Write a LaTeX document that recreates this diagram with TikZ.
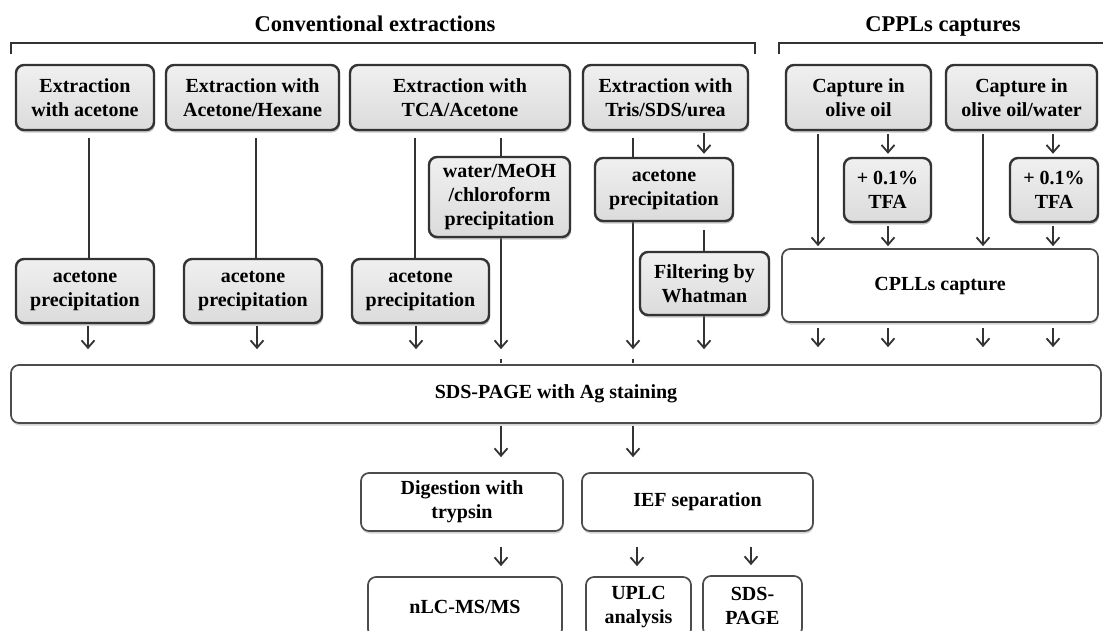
\documentclass[tikz,border=0pt]{standalone}
\usepackage{fontspec}
\setmainfont{Liberation Serif}
\usetikzlibrary{arrows.meta,calc,shadows,backgrounds}
\definecolor{ink}{HTML}{333333}
\begin{document}
\begin{tikzpicture}[x=1pt,y=-1pt,
  txt/.style={align=center, inner sep=0pt, text=black, font=\bfseries\fontsize{20}{24}\selectfont},
  gbox/.style={txt, draw=ink, line width=2.4pt, rounded corners=8pt, top color=gray!12, bottom color=gray!28,
    drop shadow={shadow xshift=1pt, shadow yshift=-2.5pt, opacity=0.45}},
  wbox/.style={txt, draw=gray!60!black, line width=1.7pt, rounded corners=8pt, fill=white,
    drop shadow={shadow xshift=0.5pt, shadow yshift=-2.5pt, opacity=0.35}},
  ln/.style={draw=ink, line width=1.9pt},
  arr/.style={ln, -{Straight Barb[length=7.5pt,width=13pt,line width=1.8pt]}},
  title/.style={inner sep=0pt, anchor=base, font=\bfseries\fontsize{22.5}{27}\selectfont}
]
\useasboundingbox (0,0) rectangle (1103,630);
\clip (0,0) rectangle (1103,630);

% titles and brackets
\node[title] (t1) at (375,31) {Conventional extractions};
\node[title] (t2) at (943,31) {CPPLs captures};
\draw[ln, line width=2.5pt] (11,54) -- (11,43) -- (755,43) -- (755,54);
\draw[ln, line width=2.5pt] (779,54) -- (779,43) -- (1110,43);

% top row
\node[gbox,minimum width=138,minimum height=65] (b1) at (85,97.5) {Extraction\\with acetone};
\node[gbox,minimum width=173,minimum height=65] (b2) at (252.5,97.5) {Extraction with\\Acetone/Hexane};
\node[gbox,minimum width=220,minimum height=65] (b3) at (460,97.5) {Extraction with\\TCA/Acetone};
\node[gbox,minimum width=165,minimum height=65] (b4) at (665.5,97.5) {Extraction with\\Tris/SDS/urea};
\node[gbox,minimum width=145,minimum height=65] (b5) at (858.5,97.5) {Capture in\\olive oil};
\node[gbox,minimum width=151,minimum height=65] (b6) at (1021.5,97.5) {Capture in\\olive oil/water};

% second row
\node[gbox,minimum width=141,minimum height=80] (wm) at (499.5,197) {water/MeOH\\/chloroform\\precipitation};
\node[gbox,minimum width=138,minimum height=63] (ap4) at (664,189.5) {acetone\\precipitation};
\node[gbox,minimum width=87,minimum height=64] (tfa1) at (887.5,190) {+ 0.1\%\\TFA};
\node[gbox,minimum width=88,minimum height=64] (tfa2) at (1054,190) {+ 0.1\%\\TFA};

% third row
\node[gbox,minimum width=138,minimum height=64] (ap1) at (85,291) {acetone\\precipitation};
\node[gbox,minimum width=138,minimum height=64] (ap2) at (253,291) {acetone\\precipitation};
\node[gbox,minimum width=137,minimum height=64] (ap3) at (420.5,291) {acetone\\precipitation};
\node[gbox,minimum width=129,minimum height=63] (filt) at (704.5,283.5) {Filtering by\\Whatman};
\node[wbox,minimum width=316,minimum height=73] (cpll) at (940,285.5) {CPLLs capture};

% SDS-PAGE
\node[wbox,minimum width=1090,minimum height=58] (sds) at (556,394) {SDS-PAGE with Ag staining};

% lower part
\node[wbox,minimum width=202,minimum height=58] (dig) at (462,502) {Digestion with\\trypsin};
\node[wbox,minimum width=231,minimum height=58] (ief) at (697.5,502) {IEF separation};
\node[wbox,minimum width=194,minimum height=60] (nlc) at (465,607) {nLC-MS/MS};
\node[wbox,minimum width=105,minimum height=60] (uplc) at (638.5,607) {UPLC\\analysis};
\node[wbox,minimum width=99,minimum height=60] (sdsp) at (752.5,606) {SDS-\\PAGE};

% column coordinates
\coordinate (c88) at (88,0);
\coordinate (c89) at (89,0);
\coordinate (c256) at (256,0);
\coordinate (c257) at (257,0);
\coordinate (c415) at (415,0);
\coordinate (c416) at (416,0);
\coordinate (c501) at (501,0);
\coordinate (c633) at (633,0);
\coordinate (c637) at (637,0);
\coordinate (c704) at (704,0);
\coordinate (c751) at (751,0);
\coordinate (c818) at (818,0);
\coordinate (c888) at (888,0);
\coordinate (c983) at (983,0);
\coordinate (c1053) at (1053,0);

\begin{pgfonlayer}{background}
% conventional extractions
\draw[ln, shorten <=7pt] (c89 |- b1.south) -- (c89 |- ap1.north);
\draw[ln, shorten <=7pt] (c256 |- b2.south) -- (c256 |- ap2.north);
\draw[ln, shorten <=7pt] (c415 |- b3.south) -- (c415 |- ap3.north);
\draw[ln, shorten <=7pt] (c501 |- b3.south) -- (c501 |- wm.north);
\draw[arr, shorten <=2pt, shorten >=15pt] (c88 |- ap1.south) -- (c88 |- sds.north);
\draw[arr, shorten <=2pt, shorten >=15pt] (c257 |- ap2.south) -- (c257 |- sds.north);
\draw[arr, shorten <=2pt, shorten >=15pt] (c416 |- ap3.south) -- (c416 |- sds.north);
\draw[arr, shorten >=15pt] (c501 |- wm.south) -- (c501 |- sds.north);
\draw[arr, shorten <=7pt, shorten >=15pt] (c633 |- b4.south) -- (c633 |- sds.north);
\draw[arr, shorten <=2pt, shorten >=3pt] (c704 |- b4.south) -- (c704 |- ap4.north);
\draw[ln, shorten <=8pt] (c704 |- ap4.south) -- (c704 |- filt.north);
\draw[arr, shorten >=15pt] (c704 |- filt.south) -- (c704 |- sds.north);
% ticks on the SDS box
\draw[ln] (c501 |- sds.north) ++(0,-1) -- ++(0,-4);
\draw[ln] (c633 |- sds.north) ++(0,-1) -- ++(0,-4);
% CPLLs
\draw[arr, shorten <=3pt, shorten >=2pt] (c818 |- b5.south) -- (c818 |- cpll.north);
\draw[arr, shorten <=3pt, shorten >=3pt] (c888 |- b5.south) -- (c888 |- tfa1.north);
\draw[arr, shorten <=3pt, shorten >=2pt] (c888 |- tfa1.south) -- (c888 |- cpll.north);
\draw[arr, shorten <=3pt, shorten >=2pt] (c983 |- b6.south) -- (c983 |- cpll.north);
\draw[arr, shorten <=3pt, shorten >=3pt] (c1053 |- b6.south) -- (c1053 |- tfa2.north);
\draw[arr, shorten <=3pt, shorten >=2pt] (c1053 |- tfa2.south) -- (c1053 |- cpll.north);
\foreach \c in {c818,c888,c983,c1053}
  \draw[arr, shorten <=5pt, shorten >=17pt] (\c |- cpll.south) -- (\c |- sds.north);
% lower part
\draw[arr, shorten <=2pt, shorten >=15pt] (c501 |- sds.south) -- (c501 |- dig.north);
\draw[arr, shorten <=2pt, shorten >=15pt] (c633 |- sds.south) -- (c633 |- ief.north);
\draw[arr, shorten <=15pt, shorten >=10pt] (c501 |- dig.south) -- (c501 |- nlc.north);
\draw[arr, shorten <=15pt, shorten >=10pt] (c637 |- ief.south) -- (c637 |- uplc.north);
\draw[arr, shorten <=15pt, shorten >=10pt] (c751 |- ief.south) -- (c751 |- sdsp.north);
\end{pgfonlayer}
\end{tikzpicture}
\end{document}
